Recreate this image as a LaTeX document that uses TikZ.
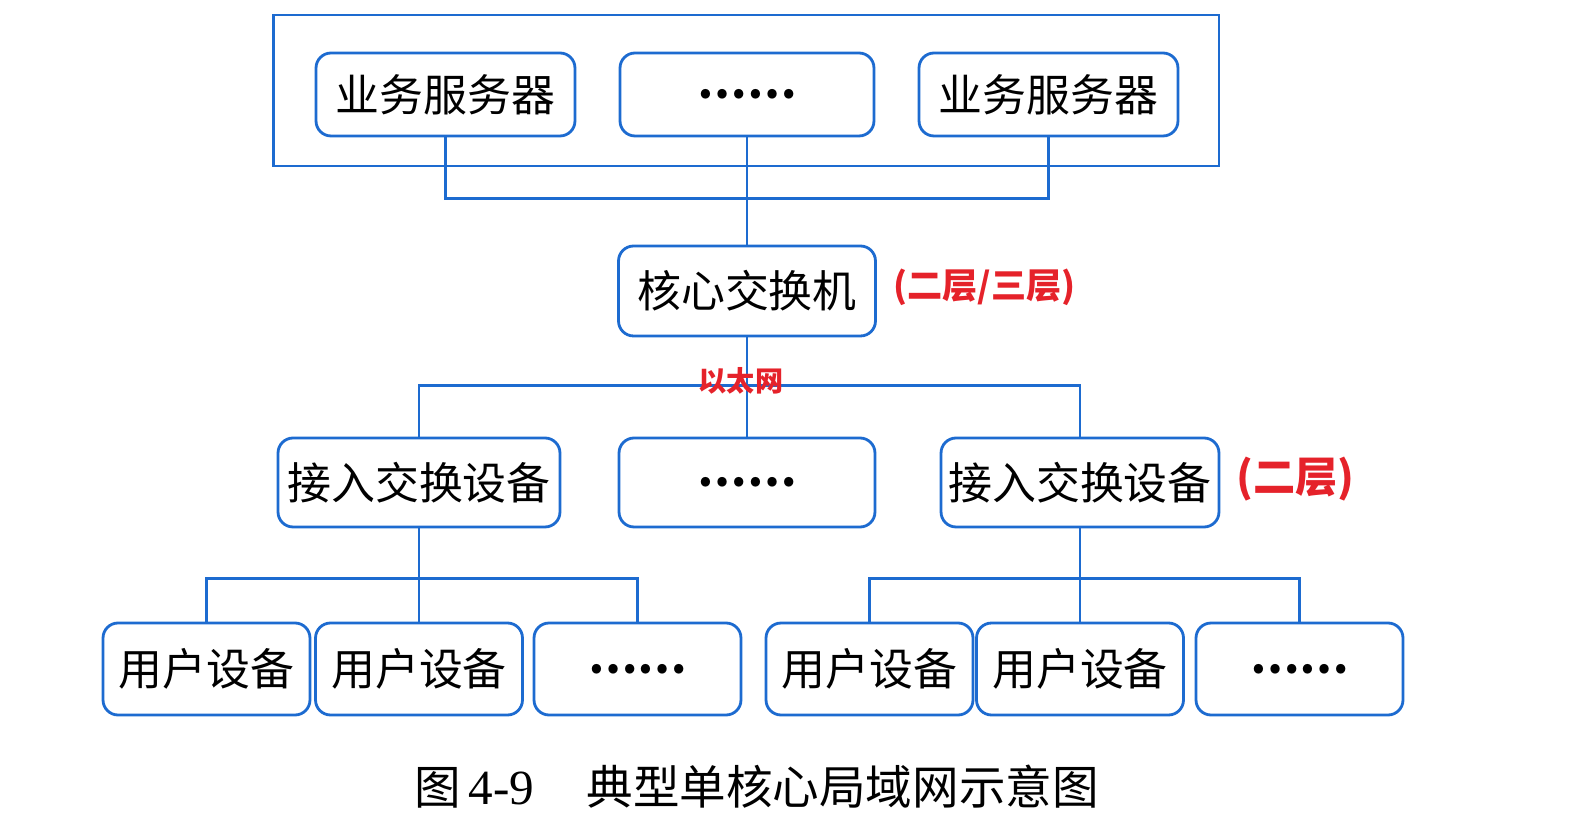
\documentclass[tikz,border=0pt]{standalone}
\usepackage{fontspec}
\setmainfont{Noto Sans CJK SC}
\newfontfamily\latinserif{Liberation Serif}
\usetikzlibrary{positioning}
\definecolor{netblue}{HTML}{1D6BD0}
\definecolor{notered}{HTML}{E5222A}

\begin{document}
\begin{tikzpicture}[x=0.02cm,y=-0.02cm,
  devbox/.style={draw=netblue,line width=1.6pt,rounded corners=0.3cm,fill=white,inner sep=0pt,font=\fontsize{25}{28}\selectfont},
  groupbox/.style={draw=netblue,line width=1.6pt,inner sep=0pt},
  link/.style={draw=netblue,line width=1.5pt},
  layernote/.style={text=notered,font=\bfseries\fontsize{20}{24}\selectfont,anchor=west}]
  \useasboundingbox (0,0) rectangle (1596,820);
  % server group
  \node[groupbox,minimum width=18.92cm,minimum height=3.02cm] (srvgroup) at (746,90.5) {};
  \node[devbox,minimum width=5.18cm,minimum height=1.66cm] (srvA) at (445.5,94.5) {业务服务器};
  \node[devbox,minimum width=5.08cm,minimum height=1.66cm] (srvB) at (747,94.5) {\bfseries ……};
  \node[devbox,minimum width=5.18cm,minimum height=1.66cm] (srvC) at (1048.5,94.5) {业务服务器};
  % core and access
  \node[devbox,minimum width=5.14cm,minimum height=1.8cm] (core) at (747,291) {核心交换机};
  \node[devbox,minimum width=5.64cm,minimum height=1.78cm] (accA) at (419,482.5) {接入交换设备};
  \node[devbox,minimum width=5.12cm,minimum height=1.78cm] (accB) at (747,482.5) {\bfseries ……};
  \node[devbox,minimum width=5.56cm,minimum height=1.78cm] (accC) at (1080,482.5) {接入交换设备};
  % user devices
  \node[devbox,minimum width=4.14cm,minimum height=1.84cm] (usrA) at (206.5,669) {用户设备};
  \node[devbox,minimum width=4.14cm,minimum height=1.84cm] (usrB) at (419,669) {用户设备};
  \node[devbox,minimum width=4.14cm,minimum height=1.84cm] (usrC) at (637.5,669) {\bfseries ……};
  \node[devbox,minimum width=4.14cm,minimum height=1.84cm] (usrD) at (869.5,669) {用户设备};
  \node[devbox,minimum width=4.14cm,minimum height=1.84cm] (usrE) at (1080,669) {用户设备};
  \node[devbox,minimum width=4.14cm,minimum height=1.84cm] (usrF) at (1299.5,669) {\bfseries ……};
  % connectors
  \draw[link] (srvA.south) -- ++(0,61) -| (srvC.south);
  \draw[link] (srvB.south) -- (core.north);
  \draw[link] (core.south) -- (accB.north);
  \draw[link] (accA.north) -- ++(0,-51) -| (accC.north);
  \draw[link] (accA.south) -- (usrB.north);
  \draw[link] (usrA.north) -- ++(0,-43) -| (usrC.north);
  \draw[link] (accC.south) -- (usrE.north);
  \draw[link] (usrD.north) -- ++(0,-43) -| (usrF.north);
  % notes
  \node[layernote] (coreNote) at (887,287) {(二层/三层)};
  \node[layernote,font=\bfseries\fontsize{24}{28}\selectfont] (accNote) at (1230,479) {(二层)};
  \node[text=notered,font=\bfseries\fontsize{16}{19}\selectfont] (ethNote) at (741,381) {以太网};
  \node[anchor=west,font=\fontsize{26.5}{30}\selectfont] (caption) at (408,787) {图\,{\latinserif\fontsize{28}{30}\selectfont 4-9}\hspace{1.05cm}典型单核心局域网示意图};
\end{tikzpicture}
\end{document}
